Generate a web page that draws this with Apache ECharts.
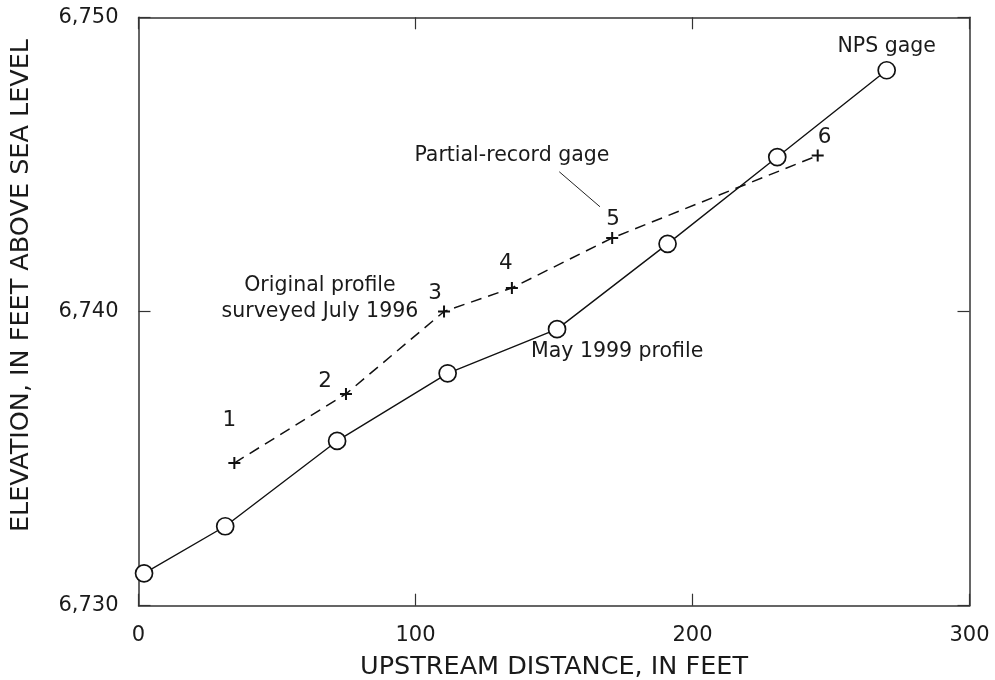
<!DOCTYPE html>
<html>
<head>
<meta charset="utf-8">
<script src="https://cdn.jsdelivr.net/npm/echarts@6/dist/echarts.min.js"></script>
<style>
  html, body { margin: 0; padding: 0; background: #fff; }
  #chart { width: 995px; height: 680px; }
</style>
</head>
<body>
<div id="chart"></div>
<script>
// May 1999 profile (circles, solid line)
const may1999X = [2, 31.3, 71.7, 111.6, 151.1, 191.0, 230.6, 270.1];
const may1999Y = [6731.1, 6732.7, 6735.6, 6737.9, 6739.4, 6742.3, 6745.25, 6748.2];

// original profile surveyed July 1996 (plus markers, dashed line)
const origX = [34.6, 74.9, 110.3, 134.8, 171.0, 245.2];
const origY = [6734.85, 6737.2, 6740.0, 6740.8, 6742.5, 6745.3];
const pointLabels = ['1', '2', '3', '4', '5', '6'];

const xTicks = [0, 100, 200, 300];
const yTicks = [6730, 6740, 6750];

// text notes, placed in data units
const notes = [
    { text: 'NPS gage', x: 270.1, y: 6749.0 },
    { text: 'Partial-record gage', x: 134.8, y: 6745.3 },
    { text: 'Original profile\nsurveyed July 1996', x: 65.5, y: 6740.43 },
    { text: 'May 1999 profile', x: 172.8, y: 6738.63 }
];
const leaderLine = [[151.9, 6744.75], [166.6, 6743.56]];

// label offsets for the numbered points (pixels from the marker)
const numberOffsets = [[-5, -43], [-21, -12], [-9, -18], [-6, -25], [1, -19], [7, -18]];

const FONT = 'DejaVu Sans';
const INK = '#1a1a1a';
const plus = 'path://M5,0h2v5h5v2h-5v5h-2v-5h-5v-2h5z';

const chart = echarts.init(document.getElementById('chart'));

// all four sides drawn as axes, ticks pointing into the plot
function axisBase(extra) {
    return Object.assign({
        type: 'value',
        axisLine: { show: true, onZero: false, lineStyle: { color: '#333', width: 1.5 } },
        axisTick: { show: true, inside: true, length: 12, lineStyle: { color: '#333', width: 1.2 } },
        splitLine: { show: false }
    }, extra);
}

const options = {
    animation: false,
    grid: { left: 138.5, right: 25.5, top: 17.3, bottom: 74.3, outerBoundsMode: 'none' },
    xAxis: [
        axisBase({
            position: 'bottom',
            min: xTicks[0], max: xTicks[xTicks.length - 1], interval: 100,
            name: 'UPSTREAM DISTANCE, IN FEET',
            nameLocation: 'middle',
            nameGap: 49,
            nameTextStyle: { fontFamily: FONT, fontSize: 25.5, color: INK },
            axisLabel: { margin: 19, fontFamily: FONT, fontSize: 21, color: INK }
        }),
        axisBase({
            position: 'top',
            min: xTicks[0], max: xTicks[xTicks.length - 1], interval: 100,
            axisLabel: { show: false }
        })
    ],
    yAxis: [
        axisBase({
            position: 'left',
            min: yTicks[0], max: yTicks[yTicks.length - 1], interval: 10,
            name: 'ELEVATION, IN FEET ABOVE SEA LEVEL',
            nameLocation: 'middle',
            nameGap: 104,
            nameTextStyle: { fontFamily: FONT, fontSize: 25.5, color: INK, padding: [0, 0, 0, 52] },
            axisLabel: {
                margin: 20, fontFamily: FONT, fontSize: 21, color: INK,
                padding: [10, 0, 0, 0],
                formatter: v => v.toLocaleString('en-US')
            }
        }),
        axisBase({
            position: 'right',
            min: yTicks[0], max: yTicks[yTicks.length - 1], interval: 10,
            axisLabel: { show: false }
        })
    ],
    series: [
        {
            name: 'May 1999 profile',
            type: 'line',
            xAxisIndex: 0, yAxisIndex: 0,
            data: may1999X.map((x, i) => [x, may1999Y[i]]),
            symbol: 'circle',
            symbolSize: 17,
            showAllSymbol: true,
            lineStyle: { color: '#111', width: 1.4 },
            itemStyle: { color: '#fff', borderColor: '#111', borderWidth: 1.7 },
            z: 3,
            markPoint: {
                symbol: 'circle',
                symbolSize: 0,
                silent: true,
                label: {
                    show: true, position: 'inside', formatter: p => p.name,
                    fontFamily: FONT, fontSize: 20.5, color: INK, lineHeight: 26
                },
                data: notes.map(n => ({ name: n.text, coord: [n.x, n.y] }))
            },
            markLine: {
                symbol: 'none',
                silent: true,
                label: { show: false },
                lineStyle: { color: '#222', width: 1, type: 'solid' },
                data: [[{ coord: leaderLine[0] }, { coord: leaderLine[1] }]]
            }
        },
        {
            name: 'Original profile surveyed July 1996',
            type: 'line',
            xAxisIndex: 0, yAxisIndex: 0,
            data: origX.map((x, i) => ({
                value: [x, origY[i]],
                label: { offset: numberOffsets[i] }
            })),
            symbol: plus,
            symbolSize: 12,
            showAllSymbol: true,
            lineStyle: { color: '#111', width: 1.5, type: [11, 7] },
            itemStyle: { color: '#111' },
            label: {
                show: true,
                position: 'inside',
                formatter: p => pointLabels[p.dataIndex],
                fontFamily: FONT, fontSize: 21.5, color: INK
            },
            z: 2
        }
    ]
};

chart.setOption(options);
</script>
</body>
</html>
